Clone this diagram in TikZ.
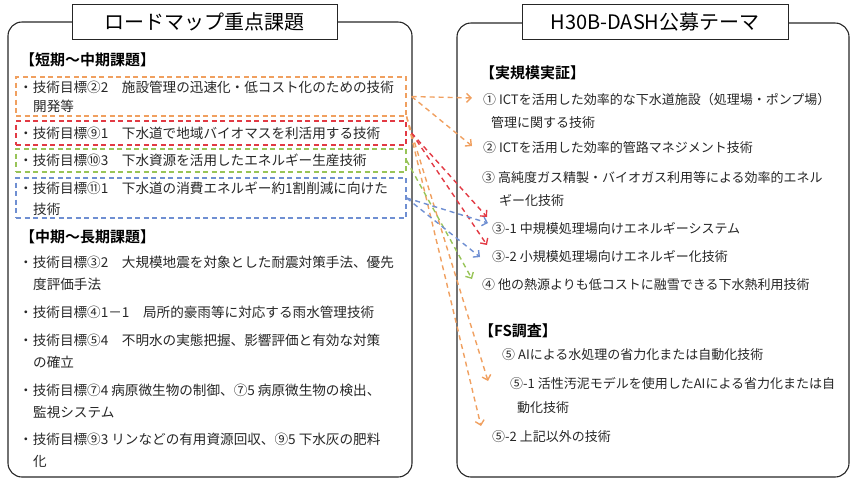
\documentclass[tikz,border=0pt]{standalone}
\usepackage{fontspec}
\setmainfont{Noto Sans CJK JP}[BoldFont={Noto Sans CJK JP Bold}]
\usetikzlibrary{arrows.meta}
\definecolor{cor}{HTML}{F0A060}
\definecolor{cre}{HTML}{E23A44}
\definecolor{cgr}{HTML}{98C458}
\definecolor{cbl}{HTML}{6F8FD2}
\definecolor{ctx}{HTML}{262626}
\begin{document}
\begin{tikzpicture}[x=1pt,y=-1pt,
  frame/.style={draw=black!85, line width=1.1pt, rounded corners=14pt},
  titlebox/.style={draw=black!85, line width=1pt, fill=white, minimum height=35pt, inner sep=0pt, font=\fontsize{20}{24}\selectfont},
  hdr/.style={anchor=west, inner sep=0pt, font=\fontsize{15}{18}\selectfont\bfseries, text=black},
  ltxt/.style={anchor=west, inner sep=0pt, font=\fontsize{13.6}{17}\selectfont, text=ctx},
  rtxt/.style={anchor=west, inner sep=0pt, font=\fontsize{13}{16}\selectfont, text=ctx},
  dbox/.style={draw=#1, line width=1.2pt, dash pattern=on 5pt off 3.5pt, inner sep=0pt},
  arr/.style={draw=#1, line width=1.4pt, dash pattern=on 5pt off 4pt, -{Straight Barb[length=4.5pt,width=9pt,line width=1.4pt]}}
]
\useasboundingbox (0,0) rectangle (855,480);

% frames
\draw[frame] (8,22) rectangle (412,477);
\draw[frame] (457,23) rectangle (849,477);
\node[titlebox, minimum width=265pt] (lt) at (204.5,22) {ロードマップ重点課題};
\node[titlebox, minimum width=266pt] (rt) at (655,22) {H30B-DASH公募テーマ};

% dashed boxes
\node[dbox=cor, minimum width=390pt, minimum height=39pt] (bo) at (211,96.5) {};
\node[dbox=cre, minimum width=390pt, minimum height=24pt] (re) at (211,133) {};
\node[dbox=cgr, minimum width=390pt, minimum height=23pt] (gr) at (211,160.5) {};
\node[dbox=cbl, minimum width=390pt, minimum height=40pt] (bl) at (211,198) {};

% left texts
\node[hdr] (h1) at (20,60) {【短期～中期課題】};
\node[ltxt] (a1) at (19,87) {・技術目標②2　施設管理の迅速化・低コスト化のための技術};
\node[ltxt] (a1b) at (33,106) {開発等};
\node[ltxt] (a2) at (19,133) {・技術目標⑨1　下水道で地域バイオマスを利活用する技術};
\node[ltxt] (a3) at (19,160.5) {・技術目標⑩3　下水資源を活用したエネルギー生産技術};
\node[ltxt] (a4) at (19,188) {・技術目標⑪1　下水道の消費エネルギー約1割削減に向けた};
\node[ltxt] (a4b) at (33,209) {技術};
\node[hdr] (h2) at (20,237) {【中期～長期課題】};
\node[ltxt] (b1) at (19,262) {・技術目標③2　大規模地震を対象とした耐震対策手法、優先};
\node[ltxt] (b1b) at (33,284) {度評価手法};
\node[ltxt] (b2) at (19,312) {・技術目標④1－1　局所的豪雨等に対応する雨水管理技術};
\node[ltxt] (b3) at (19,340) {・技術目標⑤4　不明水の実態把握、影響評価と有効な対策};
\node[ltxt] (b3b) at (33,362) {の確立};
\node[ltxt] (b4) at (19,390) {・技術目標⑦4 病原微生物の制御、⑦5 病原微生物の検出、};
\node[ltxt] (b4b) at (33,412) {監視システム};
\node[ltxt] (b5) at (19,439) {・技術目標⑨3 リンなどの有用資源回収、⑨5 下水灰の肥料};
\node[ltxt] (b5b) at (33,461) {化};

% right texts
\node[hdr] (h3) at (480,73) {【実規模実証】};
\node[rtxt] (c1) at (483,100) {① ICTを活用した効率的な下水道施設（処理場・ポンプ場）};
\node[rtxt] (c1b) at (491,123) {管理に関する技術};
\node[rtxt] (c2) at (483,148) {② ICTを活用した効率的管路マネジメント技術};
\node[rtxt] (c3) at (482,178) {③ 高純度ガス精製・バイオガス利用等による効率的エネル};
\node[rtxt] (c3b) at (499,200) {ギー化技術};
\node[rtxt] (c31) at (492,229) {③-1 中規模処理場向けエネルギーシステム};
\node[rtxt] (c32) at (492,257) {③-2 小規模処理場向けエネルギー化技術};
\node[rtxt] (c4) at (482,285) {④ 他の熱源よりも低コストに融雪できる下水熱利用技術};
\node[hdr] (h4) at (479,331) {【FS調査】};
\node[rtxt] (c5) at (502,355) {⑤ AIによる水処理の省力化または自動化技術};
\node[rtxt] (c51) at (510,384) {⑤-1 活性汚泥モデルを使用したAIによる省力化または自};
\node[rtxt] (c51b) at (517,408) {動化技術};
\node[rtxt] (c52) at (492,437) {⑤-2 上記以外の技術};

% connectors
\draw[arr=cor] ([xshift=5pt]bo.east) -- ([shift={(-11,-2)}]c1.west);
\draw[arr=cor] ([xshift=5pt]bo.east) -- ([shift={(-11,-2)}]c2.west);
\draw[arr=cor] (bo.south east) -- ([shift={(-22,-3)}]c51.west);
\draw[arr=cor] (bo.south east) -- ([shift={(-11,-11)}]c52.west);
\draw[arr=cre] ([xshift=5pt]re.east) -- ([shift={(-5,-12)}]c31.west);
\draw[arr=cre] ([xshift=5pt]re.east) -- ([shift={(-5,-12)}]c32.west);
\draw[arr=cgr] (gr.east) -- ([shift={(-10,-6)}]c4.west);
\draw[arr=cbl] (bl.east) -- ([shift={(-4,-6)}]c31.west);
\draw[arr=cbl] (bl.east) -- ([shift={(-12,0)}]c32.west);
\end{tikzpicture}
\end{document}
